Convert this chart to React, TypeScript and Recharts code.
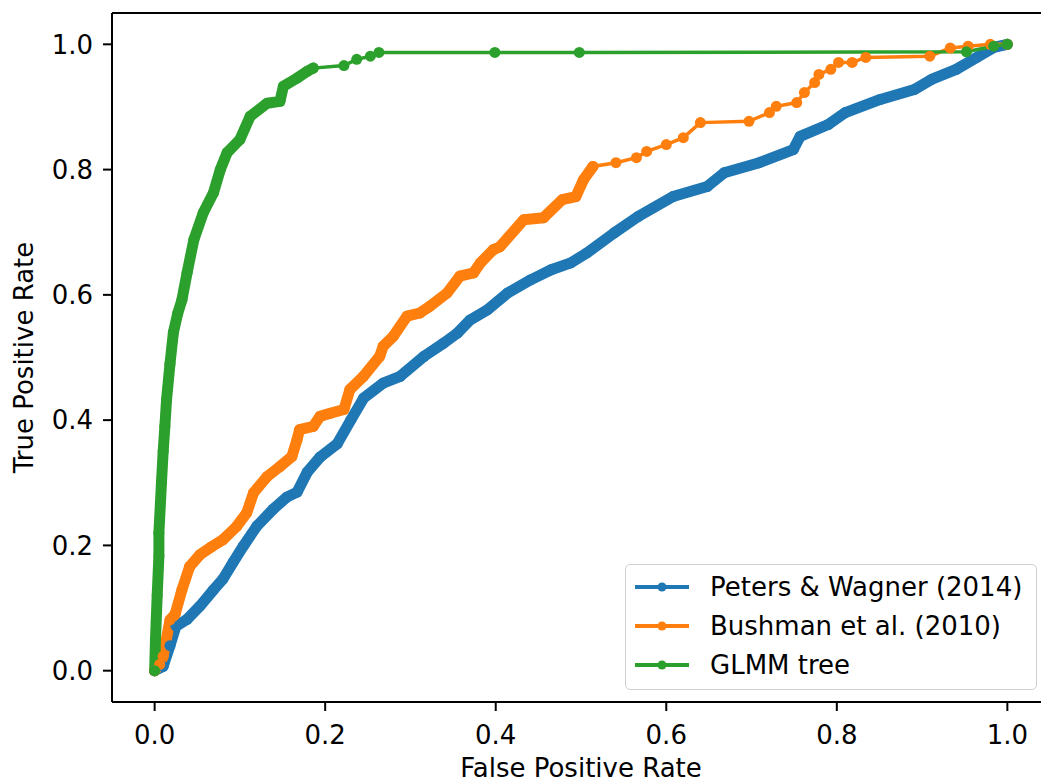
import { LineChart, Line, XAxis, YAxis, Legend, Label } from "recharts";

const FONT = "'DejaVu Sans', sans-serif";
const TICKS = [0, 0.2, 0.4, 0.6, 0.8, 1.0];

// [false positive rate, true positive rate]
const petersWagner: [number, number][] = [
  [0, 0], [0.01, 0.007], [0.018, 0.04], [0.025, 0.071], [0.038, 0.082], [0.053, 0.103],
  [0.069, 0.129], [0.08, 0.146], [0.092, 0.173], [0.104, 0.199], [0.12, 0.231], [0.139, 0.258],
  [0.155, 0.277], [0.167, 0.285], [0.179, 0.317], [0.194, 0.341], [0.214, 0.362], [0.23, 0.4],
  [0.245, 0.435], [0.268, 0.459], [0.288, 0.47], [0.316, 0.502], [0.339, 0.523], [0.355, 0.539],
  [0.37, 0.56], [0.39, 0.576], [0.414, 0.603], [0.441, 0.624], [0.465, 0.64], [0.488, 0.651],
  [0.507, 0.667], [0.539, 0.699], [0.567, 0.725], [0.608, 0.757], [0.648, 0.773], [0.668, 0.795],
  [0.709, 0.811], [0.749, 0.832], [0.757, 0.853], [0.79, 0.872], [0.81, 0.891], [0.851, 0.912],
  [0.891, 0.928], [0.911, 0.944], [0.94, 0.96], [0.964, 0.979], [0.984, 0.995], [1, 1],
];

const bushman: [number, number][] = [
  [0, 0], [0.006, 0.01], [0.01, 0.023], [0.018, 0.081], [0.024, 0.09], [0.032, 0.129],
  [0.041, 0.166], [0.053, 0.185], [0.067, 0.198], [0.08, 0.209], [0.096, 0.23], [0.108, 0.252],
  [0.116, 0.284], [0.132, 0.31], [0.147, 0.326], [0.161, 0.342], [0.167, 0.369], [0.17, 0.385],
  [0.186, 0.39], [0.194, 0.406], [0.206, 0.411], [0.222, 0.417], [0.229, 0.449], [0.245, 0.47],
  [0.264, 0.502], [0.268, 0.518], [0.28, 0.534], [0.296, 0.566], [0.311, 0.571], [0.323, 0.582],
  [0.343, 0.603], [0.358, 0.63], [0.374, 0.635], [0.382, 0.651], [0.397, 0.672], [0.405, 0.677],
  [0.433, 0.72], [0.456, 0.723], [0.478, 0.752], [0.494, 0.757], [0.503, 0.784], [0.514, 0.805],
  [0.541, 0.811], [0.565, 0.819], [0.577, 0.829], [0.6, 0.84], [0.62, 0.851], [0.64, 0.875],
  [0.697, 0.877], [0.721, 0.891], [0.729, 0.901], [0.753, 0.907], [0.762, 0.923], [0.774, 0.939],
  [0.779, 0.952], [0.793, 0.96], [0.802, 0.971], [0.818, 0.971], [0.834, 0.979], [0.909, 0.981],
  [0.933, 0.994], [0.954, 0.997], [0.98, 1], [1, 1],
];

const glmmTree: [number, number][] = [
  [0, 0], [0.001, 0.05], [0.003, 0.12], [0.005, 0.183], [0.005, 0.22], [0.008, 0.3],
  [0.01, 0.35], [0.012, 0.39], [0.014, 0.433], [0.018, 0.49], [0.022, 0.54], [0.027, 0.57],
  [0.032, 0.592], [0.038, 0.635], [0.046, 0.688], [0.057, 0.731], [0.069, 0.763], [0.077, 0.8],
  [0.085, 0.827], [0.1, 0.848], [0.112, 0.885], [0.132, 0.906], [0.147, 0.909], [0.151, 0.933],
  [0.167, 0.946], [0.179, 0.957], [0.186, 0.962], [0.222, 0.966], [0.237, 0.976], [0.253, 0.981],
  [0.263, 0.987], [0.399, 0.987], [0.498, 0.987], [0.952, 0.988], [0.984, 0.997], [1, 1],
];

// up to which FPR the markers sit so close they read as one solid band
const petersWagnerDenseTo = 1;
const bushmanDenseTo = 0.514;
const glmmTreeDenseTo = 0.186;

const SERIES = [
  { name: "Peters & Wagner (2014)", points: petersWagner, denseTo: petersWagnerDenseTo, color: "#1f77b4" },
  { name: "Bushman et al. (2010)", points: bushman, denseTo: bushmanDenseTo, color: "#ff7f0e" },
  { name: "GLMM tree", points: glmmTree, denseTo: glmmTreeDenseTo, color: "#2ca02c" },
];

const toRows = (pts: [number, number][]) => pts.map(([x, y]) => ({ x, y }));

const FS = 26;
const tickStyle = { fill: "#000", fontSize: FS, fontFamily: FONT };
const axisStroke = { stroke: "#000", strokeWidth: 2 };

function LegendBox() {
  return (
    <div
      style={{
        width: 412,
        height: 126,
        boxSizing: "border-box",
        border: "1.5px solid #d0d0d0",
        borderRadius: 5,
        background: "rgba(255,255,255,0.8)",
        padding: "3px 0 0 8px",
        fontFamily: FONT,
        fontSize: FS,
        color: "#000",
      }}
    >
      {SERIES.map((s) => (
        <div key={s.name} style={{ display: "flex", alignItems: "center", height: 38.7 }}>
          <svg width={56} height={12} style={{ marginRight: 20, flexShrink: 0 }}>
            <line x1={1} y1={6} x2={55} y2={6} stroke={s.color} strokeWidth={3.8} />
            <circle cx={28} cy={6} r={4.5} fill={s.color} />
          </svg>
          <span style={{ lineHeight: 1, whiteSpace: "nowrap" }}>{s.name}</span>
        </div>
      ))}
    </div>
  );
}

const XTitle = (props: any) => {
  const vb = props.viewBox ?? { x: 112, y: 702, width: 938, height: 79 };
  return (
    <text x={vb.x + vb.width / 2} y={vb.y + 74.5} textAnchor="middle" fill="#000" fontSize={FS} fontFamily={FONT}>
      False Positive Rate
    </text>
  );
};

const YTitle = (props: any) => {
  const vb = props.viewBox ?? { x: 0, y: 13, width: 112, height: 689 };
  const cx = vb.x + 33;
  const cy = vb.y + vb.height / 2;
  return (
    <text x={cx} y={cy} transform={`rotate(-90 ${cx} ${cy})`} textAnchor="middle" fill="#000" fontSize={FS} fontFamily={FONT}>
      True Positive Rate
    </text>
  );
};

export default function App() {
  return (
    <div style={{ position: "absolute", left: 0, top: 0, width: 1041, height: 781, overflow: "hidden", background: "#fff" }}>
      <LineChart width={1050} height={781} margin={{ top: 12, right: 0, bottom: 0, left: 0 }}>
        <XAxis
          dataKey="x"
          type="number"
          domain={[-0.05, 1.05]}
          allowDataOverflow
          ticks={TICKS}
          interval={0}
          tickFormatter={(v) => Number(v).toFixed(1)}
          tick={tickStyle}
          tickSize={9}
          tickMargin={15}
          tickLine={axisStroke}
          axisLine={axisStroke}
          height={79}
        >
          <Label content={XTitle} />
        </XAxis>
        <XAxis
          xAxisId="top"
          orientation="top"
          dataKey="x"
          type="number"
          domain={[-0.05, 1.05]}
          allowDataOverflow
          tick={false}
          tickLine={false}
          axisLine={axisStroke}
          height={1}
        />
        <YAxis
          type="number"
          domain={[-0.05, 1.05]}
          allowDataOverflow
          ticks={TICKS}
          interval={0}
          tickFormatter={(v) => Number(v).toFixed(1)}
          tick={tickStyle}
          tickSize={9}
          tickMargin={10}
          tickLine={axisStroke}
          axisLine={axisStroke}
          width={112}
        >
          <Label content={YTitle} />
        </YAxis>
        {SERIES.flatMap((s) => [
          <Line
            key={s.name + "-band"}
            data={toRows(s.points.filter(([x]) => x <= s.denseTo))}
            dataKey="y"
            type="linear"
            stroke={s.color}
            strokeWidth={11}
            strokeLinejoin="round"
            strokeLinecap="round"
            dot={false}
            activeDot={false}
            legendType="none"
            isAnimationActive={false}
          />,
          <Line
            key={s.name}
            name={s.name}
            data={toRows(s.points)}
            dataKey="y"
            type="linear"
            stroke={s.color}
            strokeWidth={3.5}
            dot={{ r: 5.5, fill: s.color, stroke: s.color, strokeWidth: 0 }}
            activeDot={false}
            isAnimationActive={false}
          />,
        ])}
        <Legend
          layout="vertical"
          align="center"
          verticalAlign="middle"
          content={<LegendBox />}
          wrapperStyle={{ position: "absolute", left: 625, top: 564, width: 412, height: 126 }}
        />
      </LineChart>
    </div>
  );
}
